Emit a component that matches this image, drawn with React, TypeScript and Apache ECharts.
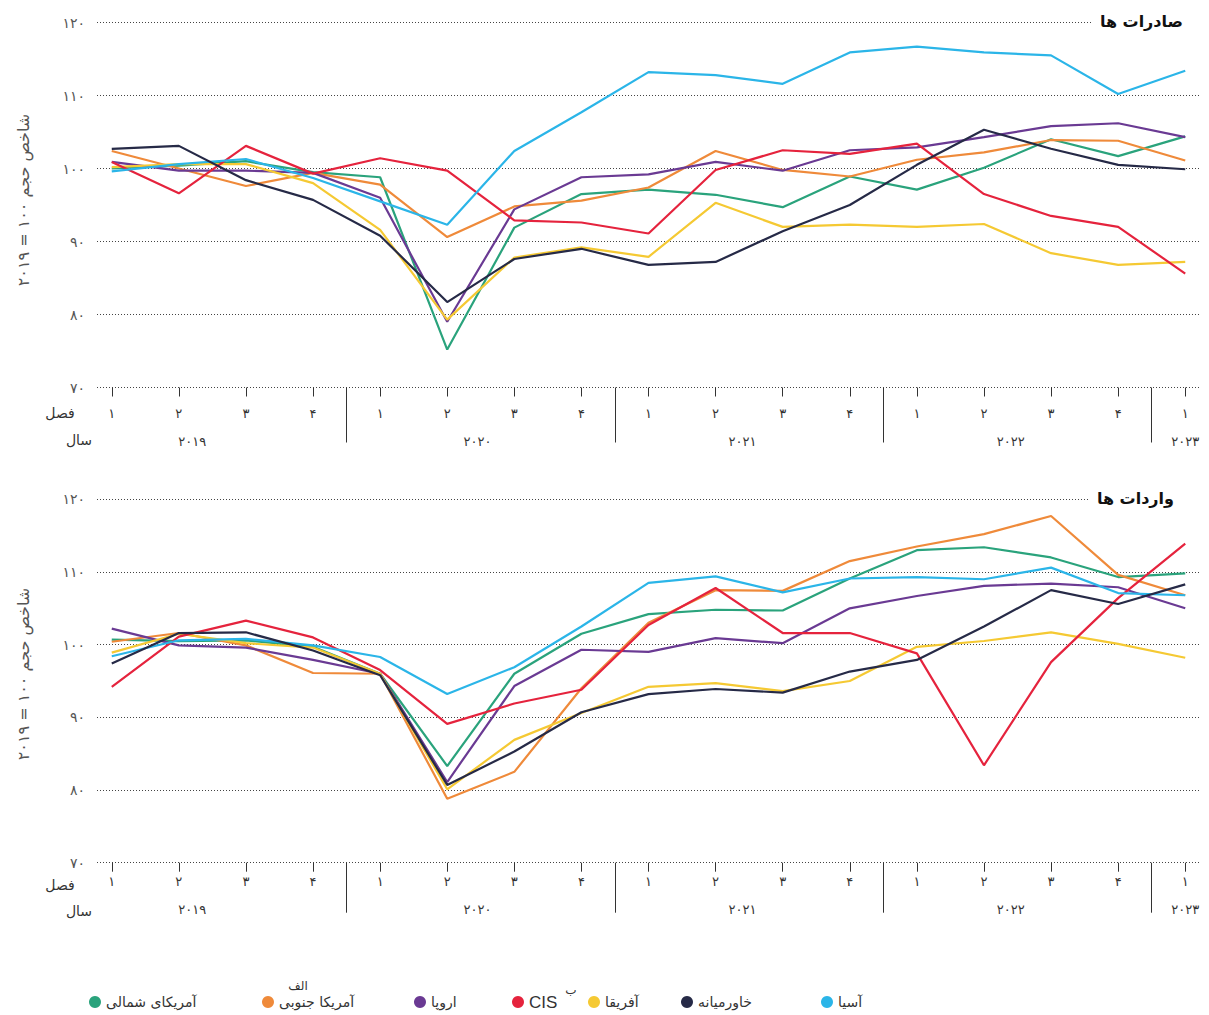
import React, { useEffect, useRef } from "react";
import * as echarts from "echarts";

// ---------- data ----------
const quarterLabels = ["۱", "۲", "۳", "۴", "۱", "۲", "۳", "۴", "۱", "۲", "۳", "۴", "۱", "۲", "۳", "۴", "۱"];
const yearLabels = ["۲۰۱۹", "۲۰۲۰", "۲۰۲۱", "۲۰۲۲", "۲۰۲۳"];
const seriesNames = ["آمریکای شمالی", "آمریکا جنوبی", "اروپا", "CIS", "آفریقا", "خاورمیانه", "آسیا"];

// Exports (صادرات ها), 2019 Q1 .. 2023 Q1
const expNorthAmerica = [100.0, 100.4, 101.0, 99.5, 98.8, 75.2, 91.9, 96.5, 97.1, 96.4, 94.7, 98.9, 97.1, 100.1, 104.0, 101.7, 104.4];
const expSouthAmerica = [102.4, 100.0, 97.6, 99.4, 97.8, 90.6, 94.8, 95.6, 97.4, 102.4, 99.8, 98.9, 101.2, 102.2, 103.9, 103.8, 101.1];
const expEurope = [100.9, 99.7, 99.7, 99.4, 96.0, 79.0, 94.4, 98.8, 99.2, 100.9, 99.7, 102.5, 102.9, 104.3, 105.8, 106.2, 104.3];
const expCIS = [100.9, 96.6, 103.1, 99.3, 101.4, 99.7, 92.9, 92.6, 91.1, 99.8, 102.5, 102.0, 103.4, 96.5, 93.5, 92.0, 85.6];
const expAfrica = [100.2, 100.6, 100.6, 98.0, 91.6, 79.3, 87.8, 89.2, 87.9, 95.3, 92.0, 92.3, 92.0, 92.4, 88.4, 86.8, 87.2];
const expMiddleEast = [102.7, 103.1, 98.4, 95.7, 90.8, 81.7, 87.6, 89.0, 86.8, 87.2, 91.4, 95.0, 100.5, 105.3, 102.7, 100.5, 99.9];
const expAsia = [99.6, 100.6, 101.3, 98.7, 95.5, 92.3, 102.4, 107.7, 113.2, 112.8, 111.6, 115.9, 116.7, 115.9, 115.5, 110.2, 113.4];

// Imports (واردات ها)
const impNorthAmerica = [100.7, 100.5, 100.6, 99.7, 96.0, 83.3, 96.0, 101.5, 104.2, 104.8, 104.7, 109.1, 113.0, 113.4, 112.0, 109.3, 109.8];
const impSouthAmerica = [100.4, 101.6, 99.9, 96.1, 96.0, 78.8, 82.5, 94.0, 103.0, 107.5, 107.4, 111.5, 113.5, 115.2, 117.7, 109.6, 106.8];
const impEurope = [102.2, 99.9, 99.6, 97.9, 96.0, 81.1, 94.3, 99.3, 99.0, 100.9, 100.2, 105.0, 106.7, 108.1, 108.4, 107.9, 105.0];
const impCIS = [94.2, 101.1, 103.3, 101.0, 96.5, 89.1, 91.9, 93.8, 102.7, 107.8, 101.6, 101.6, 98.8, 83.4, 97.6, 106.4, 113.9];
const impAfrica = [98.9, 101.5, 100.2, 99.6, 96.0, 80.1, 86.9, 90.6, 94.2, 94.7, 93.6, 95.0, 99.7, 100.5, 101.7, 100.1, 98.2];
const impMiddleEast = [97.4, 101.6, 101.7, 99.2, 95.8, 80.7, 85.3, 90.7, 93.2, 93.9, 93.4, 96.3, 97.9, 102.5, 107.5, 105.6, 108.3];
const impAsia = [98.4, 100.6, 100.8, 99.9, 98.3, 93.2, 96.9, 102.5, 108.5, 109.4, 107.2, 109.1, 109.3, 109.0, 110.6, 107.1, 106.8];

const exportSeries = [expNorthAmerica, expSouthAmerica, expEurope, expCIS, expAfrica, expMiddleEast, expAsia];
const importSeries = [impNorthAmerica, impSouthAmerica, impEurope, impCIS, impAfrica, impMiddleEast, impAsia];

// ---------- layout / style ----------
const colors = ["#2aa37c", "#ef8a3a", "#6a3a93", "#e5233d", "#f5c933", "#262a47", "#2bb5e8"];
const drawOrder = [0, 1, 2, 4, 3, 6, 5];
const yearLabelPos = [1.2, 5.45, 9.4, 13.4, 16];
const yearBreakPos = [3.5, 7.5, 11.5, 15.5];
const quarterPos = quarterLabels.map((_, i) => i);
const FONT = "DejaVu Sans";
const GRID_LEFT = 97;
const GRID_RIGHT = 9;

const toFa = (s: string | number) => String(s).replace(/\d/g, (d) => "۰۱۲۳۴۵۶۷۸۹"[+d]);

const panels = [
  { top: 22.5, height: 365, qMargin: 19, yMargin: 47, breakLen: 55, title: "صادرات ها", titleTop: 10, titleRightPad: 17, yNameY: 200, fasl: 413, sal: 440 },
  { top: 499.3, height: 363.4, qMargin: 12, yMargin: 40, breakLen: 50, title: "واردات ها", titleTop: 487, titleRightPad: 26, yNameY: 674, fasl: 885, sal: 911 },
];

const legendDotX = [95, 268, 420, 518, 594, 687, 827];
const LEGEND_Y = 1002;

export default function App() {
  const ref = useRef<HTMLDivElement>(null);

  useEffect(() => {
    if (!ref.current) return;
    const chart = echarts.init(ref.current, undefined, { renderer: "svg" });

    const grids: any[] = [];
    const xAxes: any[] = [];
    const yAxes: any[] = [];
    const series: any[] = [];
    const titles: any[] = [];
    const graphics: any[] = [];

    panels.forEach((p, gi) => {
      grids.push({ left: GRID_LEFT, right: GRID_RIGHT, top: p.top, height: p.height });
      // quarter axis
      xAxes.push({
        type: "value",
        gridIndex: gi,
        position: "bottom",
        min: -0.22,
        max: 16.22,
        axisLine: { show: false },
        splitLine: { show: false },
        axisTick: { show: true, customValues: quarterPos, length: 9, lineStyle: { color: "#333", width: 1 } },
        axisLabel: {
          show: true,
          customValues: quarterPos,
          margin: p.qMargin,
          fontSize: 13,
          color: "#333",
          fontFamily: FONT,
          formatter: (v: number) => quarterLabels[Math.round(v)] ?? "",
        },
      });
      // year axis
      xAxes.push({
        type: "value",
        gridIndex: gi,
        position: "bottom",
        offset: 0,
        min: -0.22,
        max: 16.22,
        axisLine: { show: false },
        splitLine: { show: false },
        axisTick: { show: true, customValues: yearBreakPos, length: p.breakLen, lineStyle: { color: "#333", width: 1 } },
        axisLabel: {
          show: true,
          customValues: yearLabelPos,
          margin: p.yMargin,
          fontSize: 13,
          color: "#333",
          fontFamily: FONT,
          formatter: (v: number) => {
            const idx = yearLabelPos.findIndex((y) => Math.abs(y - v) < 0.01);
            return idx >= 0 ? yearLabels[idx] : "";
          },
        },
      });
      yAxes.push({
        type: "value",
        gridIndex: gi,
        min: 70,
        max: 120,
        interval: 10,
        axisLine: { show: false },
        axisTick: { show: false },
        splitLine: { show: true, lineStyle: { color: "#444", width: 1, type: [1, 2] } },
        axisLabel: { margin: 12, fontSize: 14, color: "#555", fontFamily: FONT, formatter: (v: number) => toFa(v) },
      });

      const data = gi === 0 ? exportSeries : importSeries;
      drawOrder.forEach((si) => {
        series.push({
          type: "line",
          name: seriesNames[si],
          xAxisIndex: gi * 2,
          yAxisIndex: gi,
          symbol: "none",
          lineStyle: { width: 2.2, color: colors[si] },
          itemStyle: { color: colors[si] },
          data: data[si].map((v, i) => [i, v]),
        });
      });

      titles.push({
        text: p.title,
        right: GRID_RIGHT,
        top: p.titleTop,
        backgroundColor: "#fff",
        padding: [3, p.titleRightPad, 3, 8],
        textStyle: { fontSize: 16, fontWeight: "bold", color: "#111", fontFamily: FONT },
      });

      graphics.push({
        type: "text",
        x: 23,
        y: p.yNameY,
        rotation: Math.PI / 2,
        style: { text: "شاخص حجم ۱۰۰ = ۲۰۱۹", fontSize: 16, fill: "#555", align: "center", verticalAlign: "middle", fontFamily: FONT },
      });
      graphics.push({
        type: "text",
        x: 60,
        y: p.fasl,
        style: { text: "فصل", fontSize: 14, fill: "#333", align: "center", verticalAlign: "middle", fontFamily: FONT },
      });
      graphics.push({
        type: "text",
        x: 79,
        y: p.sal,
        style: { text: "سال", fontSize: 14, fill: "#333", align: "center", verticalAlign: "middle", fontFamily: FONT },
      });
    });

    // legend
    seriesNames.forEach((name, i) => {
      const x = legendDotX[i];
      graphics.push({ type: "circle", shape: { cx: x, cy: LEGEND_Y, r: 6 }, style: { fill: colors[i] } });
      const isCIS = name === "CIS";
      graphics.push({
        type: "text",
        x: x + 11,
        y: LEGEND_Y,
        style: {
          text: name,
          fontSize: isCIS ? 17 : 14,
          fill: "#333",
          align: "left",
          verticalAlign: "middle",
          fontFamily: isCIS ? "Liberation Sans" : FONT,
        },
      });
    });
    graphics.push({ type: "text", x: 298, y: 986, style: { text: "الف", fontSize: 12, fill: "#333", align: "center", verticalAlign: "middle", fontFamily: FONT } });
    graphics.push({ type: "text", x: 571, y: 990, style: { text: "ب", fontSize: 12, fill: "#333", align: "center", verticalAlign: "middle", fontFamily: FONT } });

    chart.setOption({
      animation: false,
      backgroundColor: "#fff",
      textStyle: { fontFamily: FONT },
      title: titles,
      grid: grids,
      xAxis: xAxes,
      yAxis: yAxes,
      series,
      graphic: graphics,
    });

    return () => chart.dispose();
  }, []);

  return <div ref={ref} style={{ position: "absolute", left: 0, top: 0, width: 1209, height: 1015 }} />;
}
